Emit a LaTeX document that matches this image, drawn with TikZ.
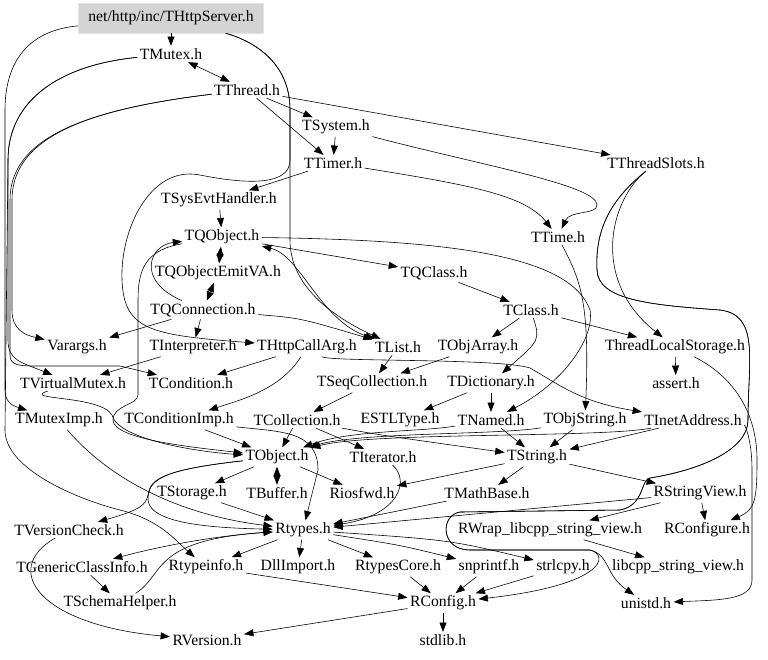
\documentclass[tikz,border=0pt]{standalone}
\usepackage{fontspec}
\setmainfont{Liberation Serif}
\newfontfamily\filefont{Liberation Serif}
\usepackage{tikz}
\usetikzlibrary{arrows.meta}

\begin{document}
\begin{tikzpicture}[x=0.03cm, y=-0.03cm,
    file/.style={inner sep=2pt, font=\filefont\fontsize{13.4}{15}\selectfont},
    arr/.style={-{Triangle[length=2.8mm, width=2.1mm]}, line width=0.5pt},
    arr2/.style={{Triangle[length=2.8mm, width=2.1mm]}-{Triangle[length=2.8mm, width=2.1mm]}, line width=0.5pt}]
    \useasboundingbox (0,0) rectangle (768,659);
    % Root file
    \node[file, fill=black!17, draw=black!10, minimum width=5.55cm, minimum height=0.9cm] (root) at (171,18) {net/http/inc/THttpServer.h};
    % Included headers, row by row
    \node[file] (tmutex) at (171,54) {TMutex.h};
    \node[file] (tthread) at (247,90) {TThread.h};
    \node[file] (tsystem) at (336,127) {TSystem.h};
    \node[file] (ttimer) at (333,163) {TTimer.h};
    \node[file] (tthreadslots) at (656,163) {TThreadSlots.h};
    \node[file] (tsysevt) at (219,200) {TSysEvtHandler.h};
    \node[file] (tqobject) at (222,237) {TQObject.h};
    \node[file] (ttime) at (558,237) {TTime.h};
    \node[file] (tqemit) at (218,273) {TQObjectEmitVA.h};
    \node[file] (tqclass) at (434,273) {TQClass.h};
    \node[file] (tqconn) at (203,310) {TQConnection.h};
    \node[file] (tclass) at (531,310) {TClass.h};
    \node[file] (varargs) at (77,347) {Varargs.h};
    \node[file] (tinterp) at (193,347) {TInterpreter.h};
    \node[file] (tcallarg) at (307,347) {THttpCallArg.h};
    \node[file] (tlist) at (398,347) {TList.h};
    \node[file] (tobjarray) at (478,347) {TObjArray.h};
    \node[file] (tls) at (675,347) {ThreadLocalStorage.h};
    \node[file] (tvmutex) at (73,383) {TVirtualMutex.h};
    \node[file] (tcond) at (191,383) {TCondition.h};
    \node[file] (tseqcoll) at (372,383) {TSeqCollection.h};
    \node[file] (tdict) at (491,383) {TDictionary.h};
    \node[file] (assert) at (676,383) {assert.h};
    \node[file] (tmuteximp) at (59,420) {TMutexImp.h};
    \node[file] (tcondimp) at (179,420) {TConditionImp.h};
    \node[file] (tcoll) at (297,420) {TCollection.h};
    \node[file] (estl) at (400,420) {ESTLType.h};
    \node[file] (tnamed) at (491,420) {TNamed.h};
    \node[file] (tobjstr) at (585,420) {TObjString.h};
    \node[file] (tinet) at (693,420) {TInetAddress.h};
    \node[file] (tobject) at (277,457) {TObject.h};
    \node[file] (titer) at (383,457) {TIterator.h};
    \node[file] (tstring) at (537,457) {TString.h};
    \node[file] (tstorage) at (192,493) {TStorage.h};
    \node[file] (tbuffer) at (277,493) {TBuffer.h};
    \node[file] (riosfwd) at (362,493) {Riosfwd.h};
    \node[file] (tmathbase) at (487,493) {TMathBase.h};
    \node[file] (rsview) at (700,493) {RStringView.h};
    \node[file] (tversion) at (69,530) {TVersionCheck.h};
    \node[file] (rtypes) at (303,530) {Rtypes.h};
    \node[file] (rwrap) at (550,530) {RWrap\_libcpp\_string\_view.h};
    \node[file] (rconfigure) at (707,530) {RConfigure.h};
    \node[file] (tgeneric) at (82,567) {TGenericClassInfo.h};
    \node[file] (rtypeinfo) at (206,567) {Rtypeinfo.h};
    \node[file] (dllimport) at (298,567) {DllImport.h};
    \node[file] (rtypescore) at (398,567) {RtypesCore.h};
    \node[file] (snprintf) at (489,567) {snprintf.h};
    \node[file] (strlcpy) at (563,567) {strlcpy.h};
    \node[file] (libcpp) at (678,567) {libcpp\_string\_view.h};
    \node[file] (tschema) at (120,603) {TSchemaHelper.h};
    \node[file] (rconfig) at (443,603) {RConfig.h};
    \node[file] (unistd) at (646,603) {unistd.h};
    \node[file] (rversion) at (207,640) {RVersion.h};
    \node[file] (stdlib) at (443,640) {stdlib.h};

    % top part
    \draw[arr] (root) -- (tmutex);
    \draw[arr2] (tmutex) -- (tthread);
    \draw[arr] (tthread) -- (tsystem);
    \draw[arr] (tthread) -- (ttimer);
    \draw[arr] (tsystem) -- (ttimer);
    \draw[arr] (tthread) -- (tthreadslots);
    \draw[arr] (ttimer) -- (tsysevt);
    \draw[arr] (ttimer) .. controls (470,185) and (525,195) .. (ttime);
    \draw[arr] (tsystem) .. controls (480,165) and (597,185) .. (597,205) .. controls (597,215) and (570,210) .. (ttime);
    \draw[arr] (tsysevt) -- (tqobject);
    \draw[arr2] (tqobject) -- (tqemit);
    \draw[arr2] (tqemit) -- (tqconn);
    \draw[arr] (tqconn) .. controls (135,280) and (150,245) .. (tqobject);
    \draw[arr] (tqobject) -- (tqclass);
    \draw[arr2] (tqobject) .. controls (300,255) and (320,320) .. (tlist);
    \draw[arr] (tqconn) -- (varargs);
    \draw[arr] (tqconn) -- (tinterp);
    \draw[arr] (tqconn) .. controls (300,318) .. (tlist);
    \draw[arr] (root) .. controls (250,40) and (290,60) .. (290,110) -- (290,240) .. controls (290,290) and (340,320) .. (tlist);
    \draw[arr] (root) .. controls (250,40) and (290,60) .. (290,110) -- (290,160) .. controls (290,185) and (250,185) .. (200,175) .. controls (150,165) and (120,230) .. (122,280) .. controls (124,330) and (150,335) .. (tcallarg);
    % TClass and friends
    \draw[arr] (tqclass) -- (tclass);
    \draw[arr] (tclass) -- (tobjarray);
    \draw[arr] (tclass) -- (tls);
    \draw[arr] (tclass) .. controls (540,340) .. (tdict);
    \draw[arr] (tthreadslots) .. controls (610,200) and (590,280) .. (tls);
    \draw[arr] (tqobject) .. controls (450,240) and (570,255) .. (590,310) .. controls (595,340) and (560,385) .. (tnamed);
    \draw[arr] (ttime) .. controls (580,280) and (590,300) .. (tobjstr);
    \draw[arr] (tls) -- (assert);
    % right bundle
    \draw[arr] (tls) .. controls (740,380) and (757,420) .. (757,460) .. controls (757,500) and (755,510) .. (rconfigure);
    \draw[arr] (tinet) .. controls (745,425) and (752,440) .. (752,470) -- (752,580) .. controls (752,600) and (720,600) .. (unistd);
    \draw[arr] (tthreadslots) .. controls (610,200) and (595,230) .. (597,270) .. controls (598,300) and (650,305) .. (720,310) .. controls (760,315) and (748,360) .. (748,420) .. controls (748,450) and (700,470) .. (650,478) .. controls (640,480) and (645,505) .. (620,510) -- (460,512) .. controls (440,515) and (440,550) .. (470,550) -- (590,550) .. controls (610,555) and (605,585) .. (rconfig);
    \draw[arr] (tthreadslots) .. controls (610,200) and (595,230) .. (597,270) .. controls (598,300) and (650,305) .. (720,310) .. controls (760,315) and (748,360) .. (748,420) .. controls (748,450) and (700,470) .. (650,478) .. controls (640,480) and (645,505) .. (620,510) -- (460,512) .. controls (440,515) and (440,550) .. (470,550) -- (590,550) .. controls (610,555) and (605,575) .. (unistd);
    \draw[arr] (tcallarg) .. controls (330,362) and (500,358) .. (530,368) .. controls (560,385) and (580,402) .. (tinet);
    % collections
    \draw[arr] (tcallarg) -- (tcond);
    \draw[arr] (tcallarg) .. controls (280,390) and (240,400) .. (tcondimp);
    \draw[arr] (tlist) -- (tseqcoll);
    \draw[arr] (tobjarray) -- (tseqcoll);
    \draw[arr] (tseqcoll) -- (tcoll);
    \draw[arr] (tdict) -- (estl);
    \draw[arr] (tdict) -- (tnamed);
    \draw[arr] (tinterp) -- (tvmutex);
    % left bundle
    \draw[arr] (tthread) .. controls (80,110) and (12,140) .. (12,200) -- (12,310) .. controls (12,330) and (25,335) .. (varargs);
    \draw[arr] (tthread) .. controls (80,110) and (10,140) .. (10,200) -- (10,355) .. controls (10,366) and (20,366) .. (40,366) -- (120,366) -- (tcond);
    \draw[arr] (tmutex) .. controls (60,65) and (8,100) .. (8,160) -- (8,340) .. controls (8,360) and (20,362) .. (tvmutex);
    \draw[arr] (root) .. controls (30,30) and (5,60) .. (5,110) -- (5,390) .. controls (5,400) and (10,405) .. (tmuteximp);
    \draw[arr] (tmutex) .. controls (60,65) and (8,100) .. (8,160) -- (5,430) .. controls (5,470) and (80,500) .. (120,510) .. controls (160,520) and (175,540) .. (rtypeinfo);
    \draw[arr] (tqobject) .. controls (145,250) and (138,270) .. (138,300) -- (138,395) .. controls (138,405) and (113,405) .. (113,420) .. controls (113,440) and (200,448) .. (tobject);
    \draw[arr] (tvmutex) .. controls (20,400) and (100,395) .. (112,415) .. controls (118,440) and (200,452) .. (tobject);
    % TObject and TString
    \draw[arr] (tcondimp) -- (tobject);
    \draw[arr] (tcoll) -- (tobject);
    \draw[arr] (tcoll) -- (titer);
    \draw[arr] (tcoll) .. controls (380,435) .. (tstring);
    \draw[arr] (tcondimp) .. controls (280,432) and (318,430) .. (318,470) -- (rtypes);
    \draw[arr] (tnamed) .. controls (420,432) and (350,430) .. (tobject);
    \draw[arr] (tobjstr) .. controls (500,435) and (360,432) .. (tobject);
    \draw[arr] (tinet) .. controls (600,438) and (370,432) .. (tobject);
    \draw[arr] (tnamed) -- (tstring);
    \draw[arr] (tobjstr) -- (tstring);
    \draw[arr] (tinet) -- (tstring);
    \draw[arr] (tstring) -- (riosfwd);
    \draw[arr] (tstring) -- (tmathbase);
    \draw[arr] (tstring) -- (rsview);
    \draw[arr] (titer) .. controls (410,480) and (400,515) .. (rtypes);
    \draw[arr] (tmathbase) -- (rtypes);
    \draw[arr] (rsview) -- (rtypes);
    \draw[arr] (rsview) -- (rconfigure);
    \draw[arr] (rsview) -- (rwrap);
    \draw[arr] (rwrap) -- (libcpp);
    % lower part
    \draw[arr] (tobject) -- (tstorage);
    \draw[arr2] (tobject) -- (tbuffer);
    \draw[arr] (tobject) -- (riosfwd);
    \draw[arr] (tobject) .. controls (160,470) and (150,480) .. (148,495) .. controls (146,505) and (140,510) .. (tversion);
    \draw[arr] (tobject) .. controls (160,470) and (148,480) .. (148,500) .. controls (150,525) and (220,528) .. (rtypes);
    \draw[arr] (tstorage) -- (rtypes);
    \draw[arr] (tmuteximp) .. controls (110,480) and (180,515) .. (rtypes);
    \draw[arr] (rtypes) .. controls (220,535) and (165,545) .. (tgeneric);
    \draw[arr] (rtypes) -- (rtypeinfo);
    \draw[arr] (rtypes) -- (dllimport);
    \draw[arr] (rtypes) -- (rtypescore);
    \draw[arr] (rtypes) .. controls (400,545) .. (snprintf);
    \draw[arr] (rtypes) .. controls (450,540) .. (strlcpy);
    \draw[arr] (tgeneric) -- (tschema);
    \draw[arr] (tschema) .. controls (165,575) and (150,540) .. (rtypes);
    \draw[arr] (tversion) .. controls (0,570) and (40,625) .. (rversion);
    \draw[arr] (rtypeinfo) -- (rconfig);
    \draw[arr] (rtypescore) -- (rconfig);
    \draw[arr] (snprintf) -- (rconfig);
    \draw[arr] (strlcpy) -- (rconfig);
    \draw[arr] (rconfig) -- (rversion);
    \draw[arr] (rconfig) -- (stdlib);
\end{tikzpicture}
\end{document}
